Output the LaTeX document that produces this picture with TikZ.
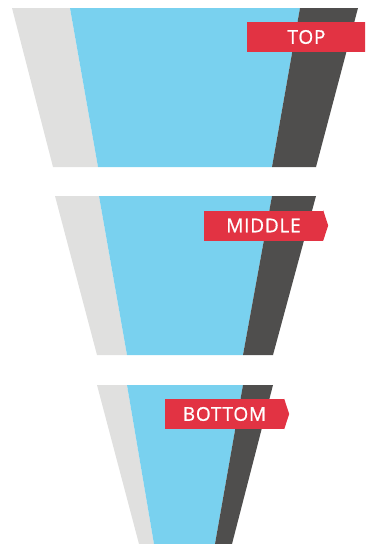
\documentclass[tikz,border=0pt]{standalone}
\usepackage{fontspec}
\setmainfont{Open Sans}
\usetikzlibrary{calc}
\definecolor{funnelgrey}{HTML}{E0E0DF}
\definecolor{funnelblue}{HTML}{79D1EF}
\definecolor{funneldark}{HTML}{4F4E4D}
\definecolor{tagred}{HTML}{E23343}
\tikzset{
  lightside/.style={fill=funnelgrey},
  face/.style={fill=funnelblue},
  darkside/.style={fill=funneldark},
  tag/.style={rectangle, fill=tagred, text=white, inner sep=0pt,
              minimum width=119pt, minimum height=30pt,
              font=\fontsize{19}{21}\selectfont\addfontfeature{LetterSpace=4,FakeBold=0.8}},
  tagtip/.style={fill=tagred}
}

\begin{document}
\begin{tikzpicture}[x=1pt, y=-1pt]
  \useasboundingbox (0,0) rectangle (365,544);
  \clip (0,0) rectangle (365,544);
  % top band
  \fill[lightside] (12,8) -- (70,8) -- (98,167) -- (53,167) -- cycle;
  \fill[face] (70,8) -- (300,8) -- (272,167) -- (98,167) -- cycle;
  \fill[darkside] (300,8) -- (358,8) -- (316,167) -- (272,167) -- cycle;
  % middle band
  \fill[lightside] (55,196) -- (99,196) -- (127,355) -- (97,355) -- cycle;
  \fill[face] (99,196) -- (272,196) -- (243,355) -- (127,355) -- cycle;
  \fill[darkside] (272,196) -- (316,196) -- (273,355) -- (243,355) -- cycle;
  % bottom band
  \fill[lightside] (97,385) -- (127,385) -- (154,544) -- (139,544) -- cycle;
  \fill[face] (127,385) -- (243,385) -- (215,544) -- (154,544) -- cycle;
  \fill[darkside] (243,385) -- (273,385) -- (232,544) -- (215,544) -- cycle;
  % labels
  \node[tag] (top) at (306.5,37) {TOP};
  \node[tag] (middle) at (263.5,225.5) {MIDDLE};
  \node[tag] (bottom) at (224.5,414) {BOTTOM};
  \foreach \t in {top,middle,bottom}
    \fill[tagtip] (\t.north east) -- ($(\t.east)+(5,0)$) -- (\t.south east) -- cycle;
\end{tikzpicture}
\end{document}
